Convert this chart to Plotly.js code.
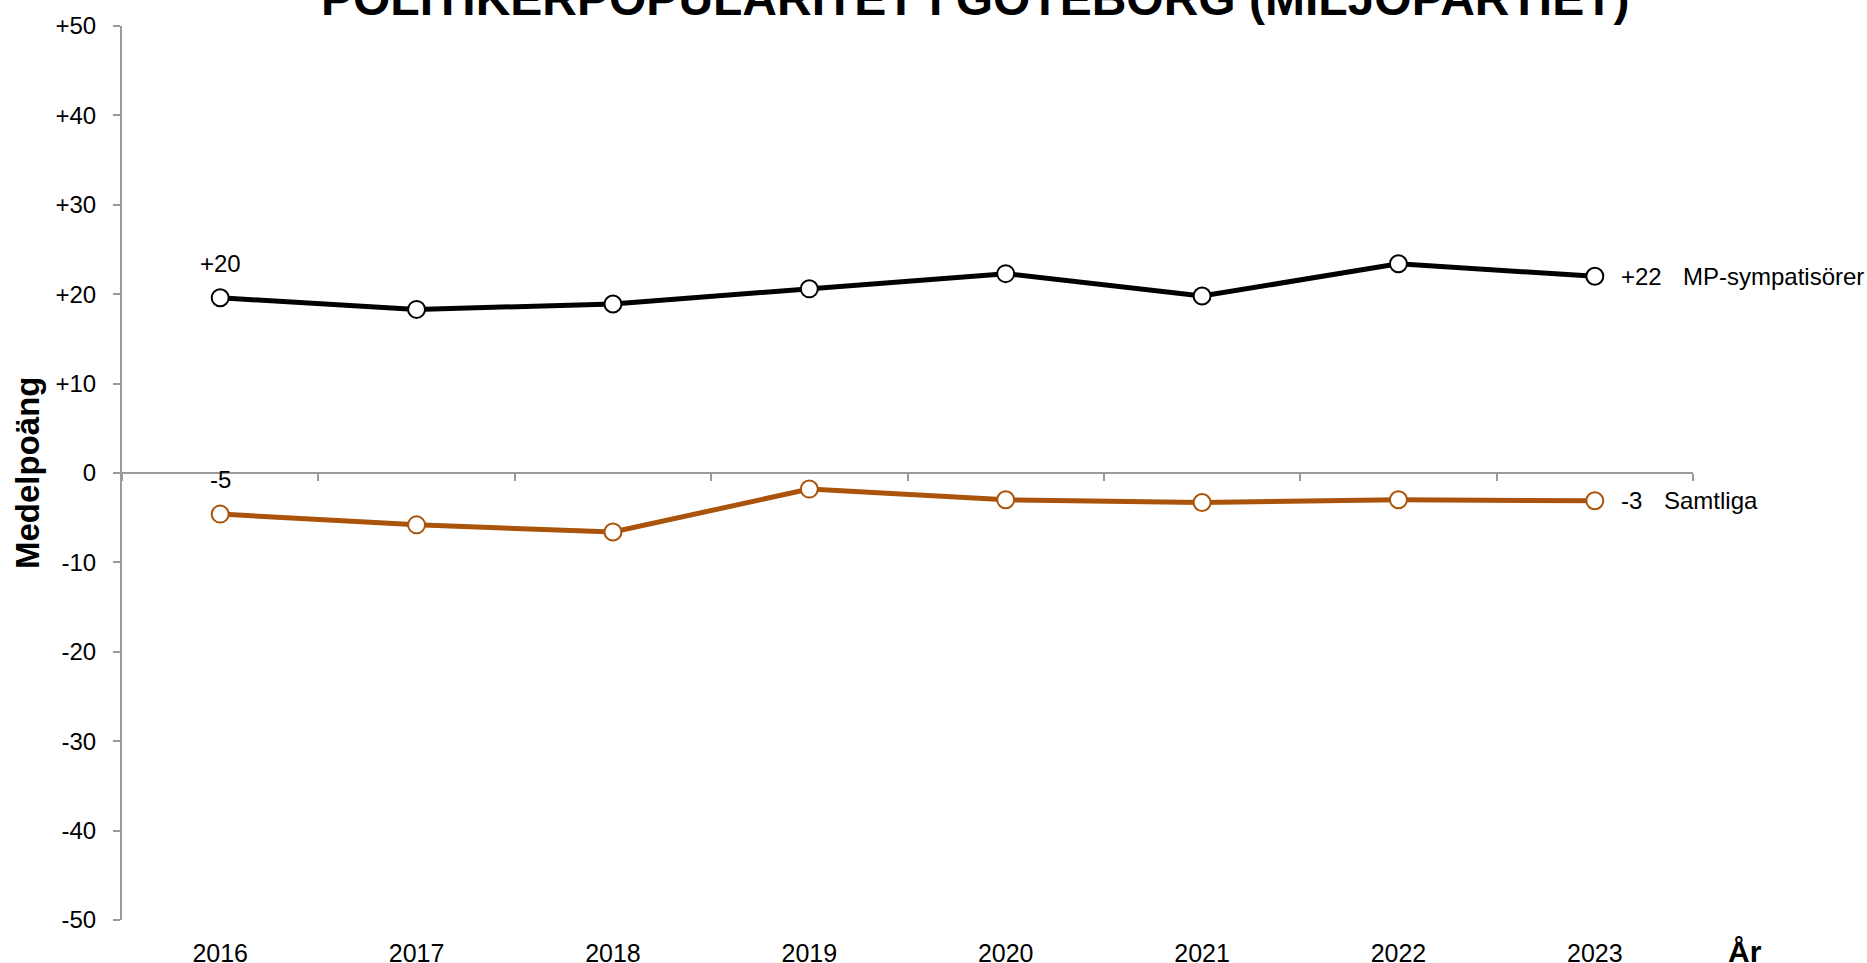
<!DOCTYPE html>
<html>
<head>
<meta charset="utf-8">
<script src="https://cdn.plot.ly/plotly-3.0.1.min.js"></script>
<style>
  html, body { margin: 0; padding: 0; background: #ffffff; }
  #chart { width: 1867px; height: 963px; }
</style>
</head>
<body>
<div id="chart"></div>
<script>
// ---- Data ----
const years = ['2016', '2017', '2018', '2019', '2020', '2021', '2022', '2023'];
const mpSympatisorer = [19.6, 18.3, 18.9, 20.6, 22.3, 19.8, 23.4, 22.0];
const samtliga = [-4.6, -5.8, -6.6, -1.8, -3.0, -3.3, -3.0, -3.1];
const seriesNames = ['MP-sympatisörer', 'Samtliga'];
const firstLabels = ['+20', '-5'];
const lastLabels = ['+22', '-3'];
const yTickVals = [50, 40, 30, 20, 10, 0, -10, -20, -30, -40, -50];
const yTickText = ['+50', '+40', '+30', '+20', '+10', '0', '-10', '-20', '-30', '-40', '-50'];
const chartTitle = 'POLITIKERPOPULARITET I GÖTEBORG (MILJÖPARTIET)';
const yTitle = 'Medelpoäng';
const xTitle = 'År';

// ---- Styles ----
const FONT = 'Liberation Sans, Arial, sans-serif';
const AXIS_GREY = '#9a9a9a';
const ORANGE = '#AA530A';
const LABEL_SIZE = 24;

const seriesValues = [mpSympatisorer, samtliga];
const seriesColors = ['#000000', ORANGE];

const traces = seriesValues.map((vals, k) => ({
  type: 'scatter',
  mode: 'lines+markers',
  name: seriesNames[k],
  x: years,
  y: vals,
  line: { color: seriesColors[k], width: 5 },
  marker: { symbol: 'circle', size: 17, color: '#ffffff', line: { color: seriesColors[k], width: 2 } },
  cliponaxis: false,
  xaxis: 'x',
  yaxis: 'y'
}));

// empty helper trace so that the zero-line axis (x2) exists
traces.push({
  type: 'scatter',
  mode: 'lines',
  x: years,
  y: years.map(() => null),
  xaxis: 'x2',
  yaxis: 'y',
  showlegend: false,
  hoverinfo: 'skip'
});

// category axes take the category index for annotation positions
const firstIdx = 0;
const lastIdx = years.length - 1;
const annotations = [];
seriesValues.forEach((vals, k) => {
  annotations.push({
    text: firstLabels[k], xref: 'x', yref: 'y', x: firstIdx, y: vals[firstIdx],
    xanchor: 'center', yanchor: 'middle', yshift: 34.5, showarrow: false,
    font: { family: FONT, size: LABEL_SIZE, color: '#000000' }
  });
  annotations.push({
    text: lastLabels[k], xref: 'x', yref: 'y', x: lastIdx, y: vals[lastIdx],
    xanchor: 'left', yanchor: 'middle', xshift: 24, showarrow: false,
    font: { family: FONT, size: LABEL_SIZE, color: '#000000' }
  });
  annotations.push({
    text: seriesNames[k], xref: 'x', yref: 'y', x: lastIdx, y: vals[lastIdx],
    xanchor: 'left', yanchor: 'middle', xshift: k === 0 ? 86 : 67, showarrow: false,
    font: { family: FONT, size: LABEL_SIZE, color: '#000000' }
  });
});

annotations.push({
  text: chartTitle,
  xref: 'paper', x: 0.5427, xanchor: 'center',
  yref: 'paper', y: 1, yshift: 28, yanchor: 'middle',
  showarrow: false,
  font: { family: FONT, size: 48, weight: 'bold', color: '#000000' }
});
annotations.push({
  text: yTitle,
  xref: 'paper', x: 0, xshift: -95, xanchor: 'center',
  yref: 'paper', y: 0.5, yanchor: 'middle',
  textangle: -90,
  showarrow: false,
  font: { family: FONT, size: 33, weight: 'bold', color: '#000000' }
});
annotations.push({
  text: xTitle,
  xref: 'paper', x: 1, xshift: 52, xanchor: 'center',
  yref: 'paper', y: 0, yshift: -31, yanchor: 'middle',
  showarrow: false,
  font: { family: FONT, size: 30, weight: 'bold', color: '#000000' }
});

const layout = {
  width: 1867,
  height: 963,
  margin: { l: 122, r: 174, t: 26, b: 43, pad: 0 },
  paper_bgcolor: '#ffffff',
  plot_bgcolor: '#ffffff',
  font: { family: FONT, color: '#000000', size: 24 },
  showlegend: false,
  hovermode: false,
  xaxis: {
    type: 'category',
    categoryorder: 'array',
    categoryarray: years,
    range: [-0.5, years.length - 0.5],
    anchor: 'y',
    side: 'bottom',
    showline: false,
    ticks: '',
    showgrid: false,
    zeroline: false,
    tickfont: { family: FONT, size: 25, color: '#000000' },
    ticklabelstandoff: 16
  },
  xaxis2: {
    type: 'category',
    categoryorder: 'array',
    categoryarray: years,
    range: [-0.5, years.length - 0.5],
    overlaying: 'x',
    anchor: 'free',
    position: 0.5,
    showline: true,
    linecolor: AXIS_GREY,
    linewidth: 2,
    ticks: 'outside',
    tickson: 'boundaries',
    ticklen: 7,
    tickwidth: 2,
    tickcolor: AXIS_GREY,
    showticklabels: false,
    showgrid: false,
    zeroline: false
  },
  yaxis: {
    range: [-50, 50],
    tickvals: yTickVals,
    ticktext: yTickText,
    ticks: 'outside',
    ticklen: 7,
    tickwidth: 2,
    tickcolor: AXIS_GREY,
    showline: true,
    linecolor: AXIS_GREY,
    linewidth: 2,
    showgrid: false,
    zeroline: false,
    tickfont: { family: FONT, size: 24, color: '#000000' },
    ticklabelstandoff: 12
  },
  annotations: annotations
};

Plotly.newPlot('chart', traces, layout, { displayModeBar: false, staticPlot: true });
</script>
</body>
</html>
